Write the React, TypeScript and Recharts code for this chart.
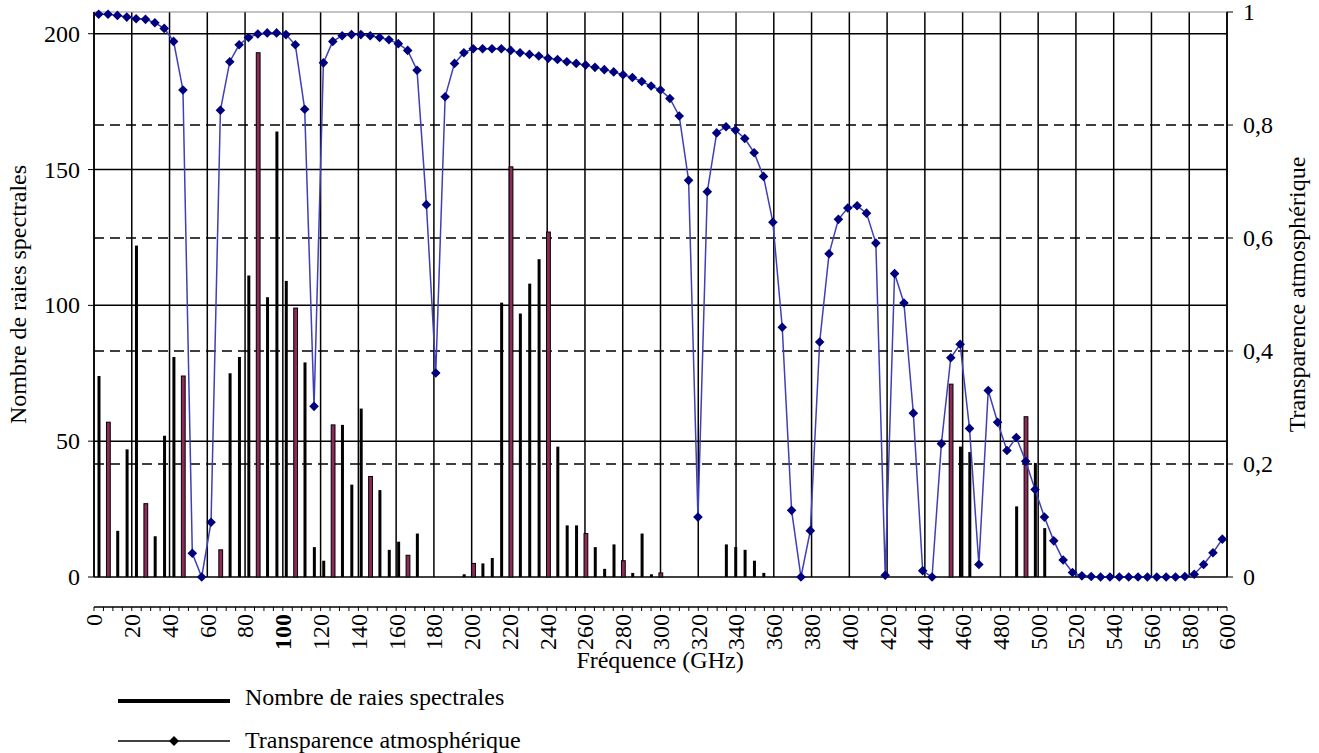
import { ComposedChart, Bar, Line, XAxis, YAxis, CartesianGrid } from 'recharts';

const POLICE = "'Liberation Serif', 'Times New Roman', serif";

// frequencies (GHz), one category every 5 GHz
const frequences = Array.from({ length: 121 }, (_, i) => i * 5);

// number of spectral lines per 5 GHz band
const raies = [
  74, 57, 17, 47, 122, 27, 15, 52, 81, 74,
  0, 0, 0, 10, 75, 81, 111, 193, 103, 164,
  109, 99, 79, 11, 6, 56, 56, 34, 62, 37,
  32, 10, 13, 8, 16, 0, 0, 0, 0, 1,
  5, 5, 7, 101, 151, 97, 108, 117, 127, 48,
  19, 19, 16, 11, 3, 12, 6, 1.5, 16, 1,
  1.5, 0, 0, 0, 0, 0, 0, 12, 11, 10,
  6, 1.5, 0, 0, 0, 0, 0, 0, 0, 0,
  0, 0, 0, 0, 0, 0, 0, 0, 0, 0,
  0, 71, 48, 46, 0, 0, 0, 0, 26, 59,
  42, 18, 0, 0, 0, 0, 0, 0, 0, 0,
  0, 0, 0, 0, 0, 0, 0, 0, 0, 0,
  0,
];

// atmospheric transparency
const transparence = [
  0.996, 0.996, 0.994, 0.991, 0.988, 0.987, 0.981, 0.971, 0.948, 0.862,
  0.042, 0.0, 0.097, 0.826, 0.912, 0.942, 0.955, 0.961, 0.963, 0.963,
  0.96, 0.942, 0.828, 0.302, 0.91, 0.948, 0.958, 0.96, 0.96, 0.958,
  0.955, 0.951, 0.944, 0.932, 0.897, 0.659, 0.361, 0.85, 0.909, 0.928,
  0.935, 0.935, 0.935, 0.935, 0.932, 0.928, 0.925, 0.922, 0.918, 0.916,
  0.912, 0.909, 0.906, 0.902, 0.898, 0.894, 0.889, 0.884, 0.877, 0.869,
  0.862, 0.847, 0.816, 0.702, 0.106, 0.682, 0.786, 0.797, 0.791, 0.776,
  0.751, 0.709, 0.628, 0.442, 0.118, 0.0, 0.082, 0.416, 0.572, 0.633,
  0.653, 0.657, 0.644, 0.591, 0.003, 0.537, 0.485, 0.29, 0.011, 0.0,
  0.236, 0.388, 0.412, 0.263, 0.022, 0.33, 0.274, 0.224, 0.247, 0.205,
  0.155, 0.106, 0.064, 0.03, 0.008, 0.002, 0.001, 0, 0, 0,
  0, 0, 0, 0, 0, 0, 0.001, 0.005, 0.022, 0.043,
  0.067,
];

const ticksX = [0, 20, 40, 60, 80, 100, 120, 140, 160, 180, 200, 220, 240, 260, 280, 300,
  320, 340, 360, 380, 400, 420, 440, 460, 480, 500, 520, 540, 560, 580, 600];
const ticksGauche = [0, 50, 100, 150, 200];
const ticksDroite = [0, 0.2, 0.4, 0.6, 0.8, 1];

// bars whose fill shows up dark red in the original
const barresRouges = [1, 5, 9, 13, 17, 21, 25, 29, 33, 40, 44, 48, 52, 56, 60, 91, 99];

const data = frequences.map((f, i) => ({ f, raies: raies[i], transp: transparence[i] }));

const texte = { fill: '#000', fontSize: 24, style: { fontFamily: POLICE } };

function TickX(props: any) {
  const { x, y, payload } = props;
  const v = payload.value;
  if (v % 20 !== 0) return <g />;
  return (
    <text
      transform={`translate(${x},${y}) rotate(-90)`}
      textAnchor="end"
      dy="0.35em"
      {...texte}
      fontWeight={v === 100 ? 'bold' : 'normal'}
    >
      {v}
    </text>
  );
}

function TickY(props: any) {
  const { x, y, payload, textAnchor, droite } = props;
  const v = payload.value;
  return (
    <text x={x} y={y} textAnchor={textAnchor} dominantBaseline="central" {...texte}>
      {droite ? String(v).replace('.', ',') : v}
    </text>
  );
}

function TitreVertical(props: any) {
  const { viewBox, libelle, dx } = props;
  const cx = viewBox.x + dx;
  const cy = viewBox.y + viewBox.height / 2;
  return (
    <text x={cx} y={cy} transform={`rotate(-90 ${cx} ${cy})`} textAnchor="middle" dominantBaseline="central" {...texte}>
      {libelle}
    </text>
  );
}

function Barre(props: any) {
  const { x, y, width, height, payload } = props;
  if (!height || height <= 0) return <g />;
  const i = props.index ?? frequences.indexOf(payload?.f);
  const cx = x + width / 2;
  if (barresRouges.includes(i)) {
    return <rect x={cx - 1.9} y={y} width={3.8} height={height} fill="#8e2a58" stroke="#000" strokeWidth={1} />;
  }
  return <rect x={cx - 1.5} y={y} width={3} height={height} fill="#000" />;
}

function Losange(props: any) {
  const { cx, cy, index } = props;
  if (cx == null || cy == null) return <g key={`l${index}`} />;
  const r = 4.8;
  return (
    <path
      key={`l${index}`}
      d={`M${cx},${cy - r}L${cx + r},${cy}L${cx},${cy + r}L${cx - r},${cy}Z`}
      fill="#00007f"
    />
  );
}

export default function App() {
  return (
    <div style={{ position: 'absolute', left: 0, top: 0, width: 1319, height: 753, background: '#fff', fontFamily: POLICE }}>
      <ComposedChart width={1319} height={677} data={data} margin={{ top: 12, right: 0, bottom: 0, left: 0 }}>
        <CartesianGrid xAxisId="f" yAxisId="gauche" horizontal={false} verticalValues={ticksX} stroke="#000" strokeWidth={1.5} />
        <CartesianGrid xAxisId="f" yAxisId="gauche" vertical={false} horizontalValues={ticksGauche} stroke="#000" strokeWidth={1.5} />
        <CartesianGrid xAxisId="f" yAxisId="droite" vertical={false} horizontalValues={[0.2, 0.4, 0.6, 0.8]} stroke="#000" strokeWidth={1.5} strokeDasharray="10 6" />
        <CartesianGrid xAxisId="f" yAxisId="droite" vertical={false} horizontalValues={[1]} stroke="#888" strokeWidth={1} />
        <XAxis
          xAxisId="f"
          type="number"
          dataKey="f"
          domain={[0, 600]}
          ticks={frequences}
          interval={0}
          tickSize={4}
          tickMargin={3}
          height={100}
          tick={<TickX />}
          axisLine={{ stroke: '#000', strokeWidth: 1.5 }}
          tickLine={{ stroke: '#000' }}
        />
        <XAxis xAxisId="c" type="category" dataKey="f" hide />
        <YAxis
          yAxisId="gauche"
          orientation="left"
          domain={[0, 208]}
          ticks={ticksGauche}
          width={94}
          tickSize={6}
          tickMargin={8}
          tick={<TickY />}
          axisLine={{ stroke: '#000', strokeWidth: 1.5 }}
          tickLine={{ stroke: '#000' }}
          label={<TitreVertical libelle="Nombre de raies spectrales" dx={18} />}
        />
        <YAxis
          yAxisId="droite"
          orientation="right"
          domain={[0, 1]}
          ticks={ticksDroite}
          width={92}
          tickSize={6}
          tickMargin={10}
          tick={<TickY droite />}
          axisLine={{ stroke: '#000', strokeWidth: 1.5 }}
          tickLine={{ stroke: '#000' }}
          label={<TitreVertical libelle="Transparence atmosphérique" dx={70} />}
        />
        <Bar xAxisId="c" yAxisId="gauche" dataKey="raies" barSize={4} shape={<Barre />} isAnimationActive={false} />
        <Line
          xAxisId="c"
          yAxisId="droite"
          type="linear"
          dataKey="transp"
          stroke="#3f3fb8"
          strokeWidth={1.5}
          dot={Losange}
          activeDot={false}
          isAnimationActive={false}
        />
      </ComposedChart>
      <svg width={1319} height={753} style={{ position: 'absolute', left: 0, top: 0, pointerEvents: 'none' }}>
        <text x={660} y={660} textAnchor="middle" dominantBaseline="central" {...texte}>Fréquence (GHz)</text>
        <line x1={118} x2={230} y1={701} y2={701} stroke="#000" strokeWidth={4} />
        <text x={245} y={697} dominantBaseline="central" {...texte}>Nombre de raies spectrales</text>
        <line x1={118} x2={230} y1={741} y2={741} stroke="#000" strokeWidth={1.5} />
        <path d="M174,736L179,741L174,746L169,741Z" fill="#000" />
        <text x={245} y={740} dominantBaseline="central" {...texte}>Transparence atmosphérique</text>
      </svg>
    </div>
  );
}
